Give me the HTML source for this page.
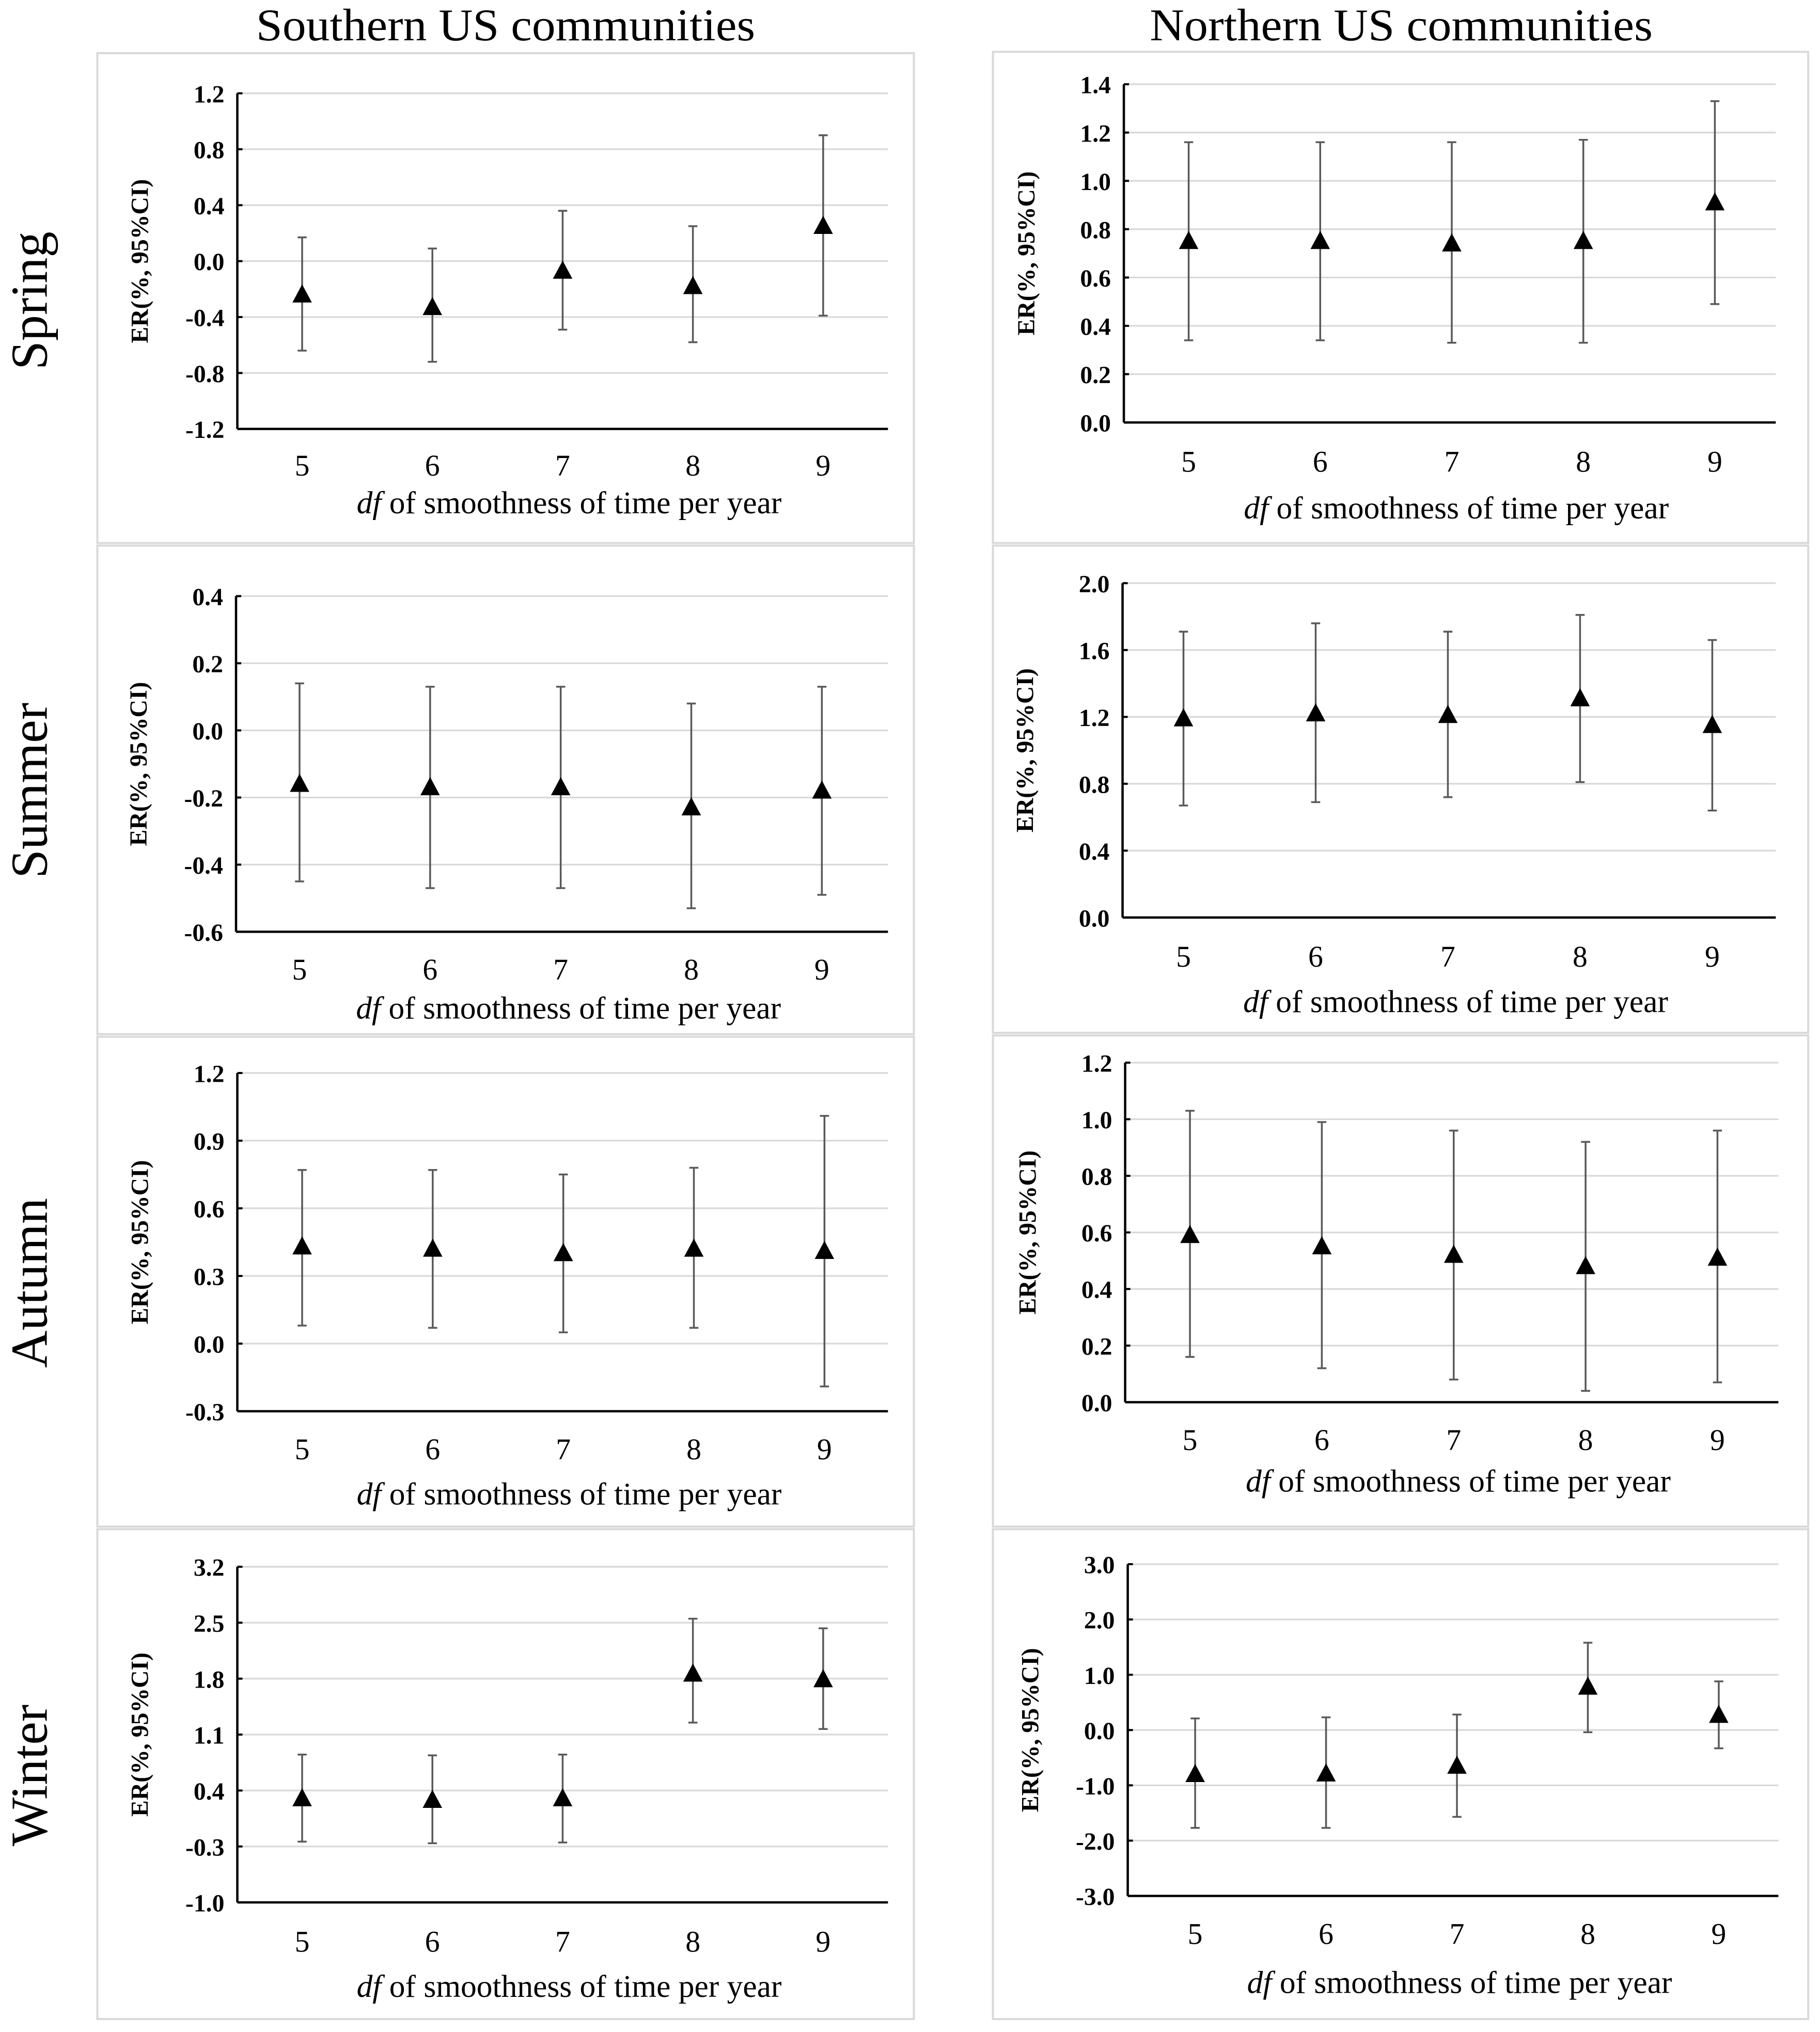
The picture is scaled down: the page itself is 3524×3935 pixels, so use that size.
<!DOCTYPE html>
<html><head><meta charset="utf-8"><style>
html,body{margin:0;padding:0;background:#fff;}
svg{display:block;}
text{font-family:"Liberation Serif",serif;}
</style></head><body>
<svg id="fig" width="3524" height="3935" viewBox="0 0 1404 1568" xmlns="http://www.w3.org/2000/svg">
<text x="390" y="31" font-size="35" text-anchor="middle" textLength="385" lengthAdjust="spacingAndGlyphs">Southern US communities</text>
<text x="1081" y="31" font-size="35" text-anchor="middle" textLength="388" lengthAdjust="spacingAndGlyphs">Northern US communities</text>
<text transform="translate(36,232) rotate(-90)" font-size="40" text-anchor="middle">Spring</text>
<text transform="translate(36,610) rotate(-90)" font-size="40" text-anchor="middle">Summer</text>
<text transform="translate(36,990) rotate(-90)" font-size="40" text-anchor="middle">Autumn</text>
<text transform="translate(36,1370) rotate(-90)" font-size="40" text-anchor="middle">Winter</text>
</svg>
<script>
const categories = ["5","6","7","8","9"];
const springSouthEst = [-0.24,-0.33,-0.07,-0.18,0.25];
const springSouthLo = [-0.64,-0.72,-0.49,-0.58,-0.39];
const springSouthHi = [0.17,0.09,0.36,0.25,0.90];
const springSouthTicks = ["1.2","0.8","0.4","0.0","-0.4","-0.8","-1.2"];
const springNorthEst = [0.75,0.75,0.74,0.75,0.91];
const springNorthLo = [0.34,0.34,0.33,0.33,0.49];
const springNorthHi = [1.16,1.16,1.16,1.17,1.33];
const springNorthTicks = ["1.4","1.2","1.0","0.8","0.6","0.4","0.2","0.0"];
const summerSouthEst = [-0.16,-0.17,-0.17,-0.23,-0.18];
const summerSouthLo = [-0.45,-0.47,-0.47,-0.53,-0.49];
const summerSouthHi = [0.14,0.13,0.13,0.08,0.13];
const summerSouthTicks = ["0.4","0.2","0.0","-0.2","-0.4","-0.6"];
const summerNorthEst = [1.19,1.22,1.21,1.31,1.15];
const summerNorthLo = [0.67,0.69,0.72,0.81,0.64];
const summerNorthHi = [1.71,1.76,1.71,1.81,1.66];
const summerNorthTicks = ["2.0","1.6","1.2","0.8","0.4","0.0"];
const autumnSouthEst = [0.43,0.42,0.40,0.42,0.41];
const autumnSouthLo = [0.08,0.07,0.05,0.07,-0.19];
const autumnSouthHi = [0.77,0.77,0.75,0.78,1.01];
const autumnSouthTicks = ["1.2","0.9","0.6","0.3","0.0","-0.3"];
const autumnNorthEst = [0.59,0.55,0.52,0.48,0.51];
const autumnNorthLo = [0.16,0.12,0.08,0.04,0.07];
const autumnNorthHi = [1.03,0.99,0.96,0.92,0.96];
const autumnNorthTicks = ["1.2","1.0","0.8","0.6","0.4","0.2","0.0"];
const winterSouthEst = [0.30,0.28,0.30,1.86,1.79];
const winterSouthLo = [-0.24,-0.26,-0.25,1.25,1.17];
const winterSouthHi = [0.85,0.84,0.85,2.55,2.43];
const winterSouthTicks = ["3.2","2.5","1.8","1.1","0.4","-0.3","-1.0"];
const winterNorthEst = [-0.80,-0.79,-0.65,0.78,0.27];
const winterNorthLo = [-1.77,-1.77,-1.57,-0.04,-0.33];
const winterNorthHi = [0.21,0.23,0.28,1.58,0.88];
const winterNorthTicks = ["3.0","2.0","1.0","0.0","-1.0","-2.0","-3.0"];

const NS = "http://www.w3.org/2000/svg";
const svg = document.getElementById("fig");
function mk(tag, attrs, parent){ const e=document.createElementNS(NS,tag); for(const k in attrs) e.setAttribute(k,attrs[k]); (parent||svg).appendChild(e); return e; }

function panel(id, box, ax, est, lo, hi, ticks){
  const g = mk("g",{});
  
  
  const b = mk("rect",{x:box[0],y:box[1],width:box[2]-box[0],height:box[3]-box[1],fill:"#fff",stroke:"#d9d9d9","stroke-width":1.6},g);
  
  
  const x0=ax.x0, x1=ax.x1, yTop=ax.yTop, yBot=ax.yBot;
  const vmax=parseFloat(ticks[0]), vmin=parseFloat(ticks[ticks.length-1]);
  const yS = v => yTop + (vmax - v)/(vmax - vmin)*(yBot - yTop);
  const step = (ax.cx[4]-ax.cx[0])/4;
  const xS = i => ax.cx[0] + i*step;
  ticks.forEach(t=>{
    const y=yS(parseFloat(t));
    if (y < yBot-0.5){
      const gl=mk("line",{x1:x0,x2:x1,y1:y,y2:y,stroke:"#d9d9d9","stroke-width":1.3},g);
      
      
    }
    const tk=mk("line",{x1:x0,x2:x0+4,y1:y,y2:y,stroke:"#000","stroke-width":1.6},g);
    
    
    const tl=mk("text",{x:x0-10,y:y+7,"font-size":19,"font-weight":"bold","text-anchor":"end"},g);
    tl.textContent=t;
    
    
  });
  const ya=mk("line",{x1:x0,x2:x0,y1:yTop,y2:yBot,stroke:"#000","stroke-width":1.8},g);
  
  
  const xa=mk("line",{x1:x0,x2:x1,y1:yBot,y2:yBot,stroke:"#000","stroke-width":1.8},g);
  
  
  const yt=mk("text",{transform:`translate(${x0-69},${(yTop+yBot)/2}) rotate(-90)`,"font-size":19,"font-weight":"bold","text-anchor":"middle"},g);
  yt.textContent="ER(%, 95%CI)";
  
  
  categories.forEach((c,i)=>{
    const cx=xS(i);
    const cl=mk("text",{x:cx,y:ax.labY+1,"font-size":23,"text-anchor":"middle"},g);
    cl.textContent=c;
    
    
    const yl=yS(lo[i]), yh=yS(hi[i]), ye=yS(est[i]);
    const eb=mk("path",{d:`M${cx},${yl}V${yh}M${cx-3.5},${yl}H${cx+3.5}M${cx-3.5},${yh}H${cx+3.5}`,stroke:"#595959","stroke-width":1.4,fill:"none"},g);
    
    
    const tri=mk("path",{d:`M${cx},${ye-8}L${cx+7.5},${ye+6}L${cx-7.5},${ye+6}Z`,fill:"#000"},g);
    
    
  });
  const xt=mk("text",{x:(x0+x1)/2+5,y:ax.titY+1,"font-size":24.5,"text-anchor":"middle"},g);
  
  
  const it=mk("tspan",{"font-style":"italic"},xt); it.textContent="df";
  const rest=mk("tspan",{},xt); rest.textContent=" of smoothness of time per year";
}
const L=[233,333,434,535,635];
panel("spring-south",[75,41,705,419],{x0:183,x1:685,yTop:72,yBot:331,cx:L,labY:366,titY:395},springSouthEst,springSouthLo,springSouthHi,springSouthTicks);
panel("spring-north",[766,40,1395,419],{x0:867,x1:1370,yTop:65,yBot:326,cx:[917,1018,1120,1221,1323],labY:363,titY:399},springNorthEst,springNorthLo,springNorthHi,springNorthTicks);
panel("summer-south",[75,421,705,798],{x0:182,x1:685,yTop:460,yBot:719,cx:[231,332,432,533,634],labY:755,titY:785},summerSouthEst,summerSouthLo,summerSouthHi,summerSouthTicks);
panel("summer-north",[766,421,1395,797],{x0:866,x1:1370,yTop:450,yBot:708,cx:[913,1015,1117,1219,1321],labY:745,titY:780},summerNorthEst,summerNorthLo,summerNorthHi,summerNorthTicks);
panel("autumn-south",[75,800,705,1178],{x0:183,x1:685,yTop:828,yBot:1089,cx:[233,333,434,535,636],labY:1125,titY:1160},autumnSouthEst,autumnSouthLo,autumnSouthHi,autumnSouthTicks);
panel("autumn-north",[766,799,1395,1178],{x0:868,x1:1372,yTop:820,yBot:1082,cx:[918,1020,1122,1224,1325],labY:1118,titY:1150},autumnNorthEst,autumnNorthLo,autumnNorthHi,autumnNorthTicks);
panel("winter-south",[75,1180,705,1558],{x0:183,x1:685,yTop:1209,yBot:1468,cx:L,labY:1505,titY:1540},winterSouthEst,winterSouthLo,winterSouthHi,winterSouthTicks);
panel("winter-north",[766,1180,1395,1558],{x0:870,x1:1372,yTop:1207,yBot:1463,cx:[922,1023,1124,1225,1326],labY:1499,titY:1537},winterNorthEst,winterNorthLo,winterNorthHi,winterNorthTicks);
</script>
</body></html>
